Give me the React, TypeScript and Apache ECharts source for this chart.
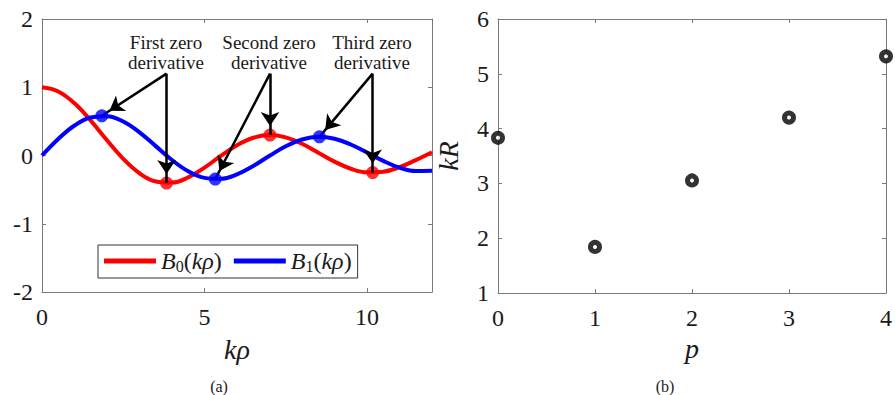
import React, { useEffect, useRef } from "react";
import * as echarts from "echarts";

// Left panel: sampled curves
const kRho = [0, 0.5, 1, 1.5, 2, 2.5, 3, 3.5, 4, 4.5, 5, 5.5, 6, 6.5, 7, 7.5, 8, 8.5, 9, 9.5, 10, 10.5, 11, 11.5, 12];
const b0Values = [1.0, 0.9385, 0.7652, 0.5118, 0.2239, -0.0484, -0.2601, -0.3801, -0.3971, -0.3205, -0.1776, -0.0068, 0.1506, 0.2601, 0.3001, 0.2663, 0.1717, 0.0419, -0.0903, -0.1939, -0.2459, -0.2366, -0.1712, -0.0677, 0.0477];
const b1Values = [0, 0.2423, 0.4401, 0.5579, 0.5767, 0.4971, 0.3391, 0.1374, -0.066, -0.2311, -0.3276, -0.3414, -0.2767, -0.1538, -0.0047, 0.1352, 0.2346, 0.2731, 0.2453, 0.1613, 0.0435, -0.0789, -0.1768, -0.2284, -0.2234];

// Zero-derivative points
const redPointsX = [3.832, 7.016, 10.173];
const redPointsY = [-0.403, 0.300, -0.250];
const bluePointsX = [1.841, 5.331, 8.536];
const bluePointsY = [0.582, -0.346, 0.273];
const arrowStartY = 1.2;
const annotationLines = [
  ["First zero", "derivative"],
  ["Second zero", "derivative"],
  ["Third zero", "derivative"],
];

// Right panel
const pValues = [0, 1, 2, 3, 4];
const kRValues = [3.832, 1.841, 3.054, 4.201, 5.318];

const leftXTicks = [0, 5, 10];

const FONT = "Liberation Serif";
const TXT = "#1a1a1a";
const AX = "#7a7a7a";

export default function App() {
  const ref = useRef<HTMLDivElement>(null);
  useEffect(() => {
    if (!ref.current) return;
    const chart = echarts.init(ref.current, undefined, { renderer: "svg" });

    const axisLine = { show: true, onZero: false, lineStyle: { color: AX, width: 1 } };
    const tick = { show: true, inside: true, length: 4, lineStyle: { color: AX } };
    const label = { color: TXT, fontFamily: FONT, fontSize: 24 };

    const arrowEnd = { symbol: "arrow", symbolSize: 14, symbolOffset: [0, 9] };
    const arrows: any[] = [];
    for (let i = 0; i < redPointsX.length; i++) {
      arrows.push([
        { coord: [redPointsX[i], arrowStartY], symbol: "none" },
        { coord: [bluePointsX[i], bluePointsY[i]], ...arrowEnd },
      ]);
      arrows.push([
        { coord: [redPointsX[i], arrowStartY], symbol: "none" },
        { coord: [redPointsX[i], redPointsY[i]], ...arrowEnd },
      ]);
    }

    const richLegend = {
      i: { fontFamily: FONT, fontStyle: "italic", fontSize: 24, lineHeight: 26, color: TXT },
      r: { fontFamily: FONT, fontSize: 24, lineHeight: 26, color: TXT },
      s: { fontFamily: FONT, fontSize: 16, lineHeight: 14, verticalAlign: "bottom", color: TXT },
    };

    chart.setOption({
      animation: false,
      textStyle: { fontFamily: FONT },
      grid: [
        { left: 42, top: 19, width: 390, height: 273 },
        { left: 498, top: 19, width: 390, height: 274 },
      ],
      xAxis: [
        {
          gridIndex: 0, type: "value", min: 0, max: 12, interval: 5, position: "bottom",
          axisLine, axisTick: { ...tick, customValues: leftXTicks }, splitLine: { show: false },
          axisLabel: { ...label, margin: 13, customValues: leftXTicks, formatter: (v: number) => (v === 12 ? "" : String(v)) },
          name: "kρ", nameLocation: "middle", nameGap: 43,
          nameTextStyle: { fontFamily: FONT, fontStyle: "italic", fontSize: 28, color: TXT },
        },
        {
          gridIndex: 0, type: "value", min: 0, max: 12, interval: 5, position: "top",
          axisLine, axisTick: { ...tick, customValues: leftXTicks }, axisLabel: { show: false }, splitLine: { show: false },
        },
        {
          gridIndex: 1, type: "value", min: 0, max: 4, interval: 1, position: "bottom",
          axisLine, axisTick: tick, splitLine: { show: false },
          axisLabel: { ...label, margin: 13 },
          name: "p", nameLocation: "middle", nameGap: 41,
          nameTextStyle: { fontFamily: FONT, fontStyle: "italic", fontSize: 28, color: TXT },
        },
        {
          gridIndex: 1, type: "value", min: 0, max: 4, interval: 1, position: "top",
          axisLine, axisTick: tick, axisLabel: { show: false }, splitLine: { show: false },
        },
      ],
      yAxis: [
        {
          gridIndex: 0, type: "value", min: -2, max: 2, interval: 1, position: "left",
          axisLine, axisTick: tick, splitLine: { show: false },
          axisLabel: { ...label, margin: 9 },
        },
        {
          gridIndex: 0, type: "value", min: -2, max: 2, interval: 1, position: "right",
          axisLine, axisTick: tick, axisLabel: { show: false }, splitLine: { show: false },
        },
        {
          gridIndex: 1, type: "value", min: 1, max: 6, interval: 1, position: "left",
          axisLine, axisTick: tick, splitLine: { show: false },
          axisLabel: { ...label, margin: 9 },
          name: "kR", nameLocation: "middle", nameGap: 36, nameRotate: 90,
          nameTextStyle: { fontFamily: FONT, fontStyle: "italic", fontSize: 28, color: TXT },
        },
        {
          gridIndex: 1, type: "value", min: 1, max: 6, interval: 1, position: "right",
          axisLine, axisTick: tick, axisLabel: { show: false }, splitLine: { show: false },
        },
      ],
      legend: {
        data: ["B0", "B1"],
        left: 98, top: 245,
        orient: "horizontal",
        icon: "rect",
        itemWidth: 52, itemHeight: 5, itemGap: 12,
        padding: [4, 6, 4, 6],
        borderColor: "#333", borderWidth: 1,
        backgroundColor: "#fff",
        selectedMode: false,
        formatter: (name: string) => `{i|B}{s|${name.slice(1)}}{r|(}{i|kρ}{r|)}`,
        textStyle: { rich: richLegend, fontFamily: FONT, fontSize: 24 },
      },
      graphic: [
        ...annotationLines.map((lines, i) => ({
          type: "text",
          x: [166, 269, 372][i],
          y: 52,
          style: {
            text: lines.join("\n"),
            align: "center",
            verticalAlign: "middle",
            fontFamily: FONT, fontSize: 19, lineHeight: 20, fill: TXT,
          },
        })),
        { type: "text", x: 219, y: 386, style: { text: "(a)", align: "center", verticalAlign: "middle", fontFamily: FONT, fontSize: 16, fill: TXT } },
        { type: "text", x: 665, y: 386, style: { text: "(b)", align: "center", verticalAlign: "middle", fontFamily: FONT, fontSize: 16, fill: TXT } },
      ],
      series: [
        {
          name: "B0", type: "line", xAxisIndex: 0, yAxisIndex: 0,
          data: kRho.map((x, i) => [x, b0Values[i]]),
          smooth: 0.4, showSymbol: false, symbol: "none",
          lineStyle: { color: "#ff0000", width: 4 }, itemStyle: { color: "#ff0000" },
          silent: true, z: 2,
        },
        {
          name: "B1", type: "line", xAxisIndex: 0, yAxisIndex: 0,
          data: kRho.map((x, i) => [x, b1Values[i]]),
          smooth: 0.4, showSymbol: false, symbol: "none",
          lineStyle: { color: "#0000ff", width: 4 }, itemStyle: { color: "#0000ff" },
          silent: true, z: 3,
        },
        {
          name: "redPts", type: "scatter", xAxisIndex: 0, yAxisIndex: 0,
          data: redPointsX.map((x, i) => [x, redPointsY[i]]),
          symbol: "circle", symbolSize: 13, itemStyle: { color: "#ff0000" }, silent: true, z: 4,
        },
        {
          name: "bluePts", type: "scatter", xAxisIndex: 0, yAxisIndex: 0,
          data: bluePointsX.map((x, i) => [x, bluePointsY[i]]),
          symbol: "circle", symbolSize: 13, itemStyle: { color: "#0000ff" }, silent: true, z: 6,
          markLine: {
            silent: true,
            symbol: ["none", "arrow"],
            symbolSize: 14,
            label: { show: false },
            lineStyle: { color: "#000", width: 2.5, type: "solid" },
            itemStyle: { color: "#000" },
            emphasis: { disabled: true },
            data: arrows,
          },
        },
        {
          name: "kR", type: "scatter", xAxisIndex: 2, yAxisIndex: 2,
          data: pValues.map((p, i) => [p, kRValues[i]]),
          symbol: "circle", symbolSize: 9,
          itemStyle: { color: "#fff", borderColor: "#000", borderWidth: 5 },
          silent: true, clip: false, z: 5,
        },
      ],
    });
    return () => chart.dispose();
  }, []);
  return <div ref={ref} style={{ position: "fixed", left: 0, top: 0, width: 895, height: 395, background: "#fff" }} />;
}
